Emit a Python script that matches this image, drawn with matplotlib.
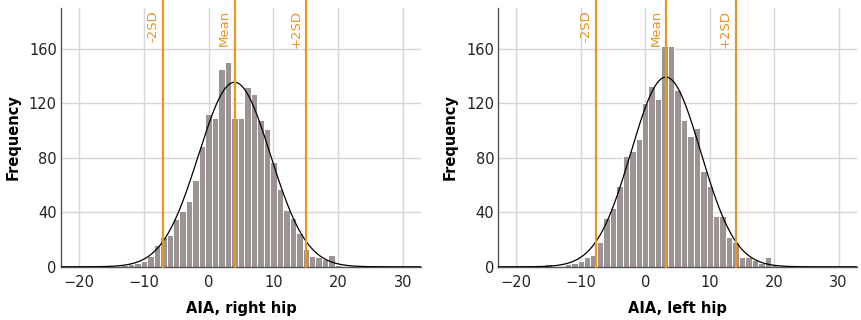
import numpy as np
import matplotlib
matplotlib.use("Agg")
import matplotlib.pyplot as plt
import matplotlib.transforms as mtransforms

# ---- data ----
bin_centers_right_hip = list(range(-18, 28))
counts_right_hip = [1, 0, 0, 0, 0, 1, 2, 3, 4, 8, 16, 22, 23, 35, 41, 48, 64, 89,
                    112, 109, 145, 150, 109, 109, 132, 127, 108, 101, 77, 57, 42, 36,
                    25, 13, 8, 7, 6, 9, 1, 0, 0, 0, 0, 0, 0, 1]

bin_centers_left_hip = list(range(-15, 25))
counts_left_hip = [2, 0, 0, 2, 3, 4, 7, 9, 18, 36, 43, 59, 81, 85, 94, 120, 133,
                   123, 162, 162, 130, 108, 96, 102, 70, 59, 37, 37, 22, 18, 7, 7,
                   5, 3, 7, 1, 0, 0, 0, 1]

mean_right_hip, sd_right_hip = 4.0, 5.55
mean_left_hip, sd_left_hip = 3.2, 5.4
n_subjects = 1885

xlabels = ["AIA, right hip", "AIA, left hip"]
ref_labels = ["-2SD", "Mean", "+2SD"]
xticks = [-20, -10, 0, 10, 20, 30]
yticks = [0, 40, 80, 120, 160]

BAR = "#9c9393"
ORANGE = "#e8952a"
GRID = "#d6d6d6"

fig = plt.figure(figsize=(8.61, 3.2), dpi=100)
ax_l = fig.add_axes([61 / 861, 1 - 266.8 / 320, 360 / 861, (266.8 - 8) / 320])
ax_r = fig.add_axes([498.3 / 861, 1 - 266.8 / 320, 358.4 / 861, (266.8 - 8) / 320])

panels = [
    (ax_l, bin_centers_right_hip, counts_right_hip, mean_right_hip, sd_right_hip, xlabels[0]),
    (ax_r, bin_centers_left_hip, counts_left_hip, mean_left_hip, sd_left_hip, xlabels[1]),
]

for ax, centers, counts, mu, sd, xl in panels:
    ax.set_axisbelow(True)
    ax.grid(True, color=GRID, linewidth=1.0)
    ax.bar(centers, counts, width=1.0, color=BAR, edgecolor="white",
           linewidth=0.7, zorder=2)
    xs = np.linspace(-22.8, 32.8, 600)
    ys = n_subjects * 1.0 / (sd * np.sqrt(2 * np.pi)) * np.exp(-0.5 * ((xs - mu) / sd) ** 2)
    ax.plot(xs, ys, color="black", linewidth=0.9, zorder=4)
    for val, lab in zip([mu - 2 * sd, mu, mu + 2 * sd], ref_labels):
        ax.axvline(val, ymin=0, ymax=1.031, color=ORANGE, linewidth=1.6,
                   zorder=5, clip_on=False)
        trans = mtransforms.offset_copy(ax.transData, fig=fig, x=-2.5, y=0, units="points")
        ax.text(val, 188.5, lab, rotation=90, ha="right", va="top", color=ORANGE,
                fontsize=9.5, transform=trans, zorder=6)
    ax.set_xlim(-22.8, 32.8)
    ax.set_ylim(0, 190)
    ax.set_xticks(xticks)
    ax.set_yticks(yticks)
    ax.tick_params(axis="both", length=0, labelsize=10.5, colors="#222222")
    ax.tick_params(axis="x", pad=6)
    ax.tick_params(axis="y", pad=3)
    for s in ["top", "right"]:
        ax.spines[s].set_visible(False)
    for s in ["left", "bottom"]:
        ax.spines[s].set_color("#555555")
        ax.spines[s].set_linewidth(1.0)
    ax.set_xlabel(xl, fontsize=10.5, fontweight="bold", labelpad=8)
    ax.set_ylabel("Frequency", fontsize=10.5, fontweight="bold", labelpad=6)

fig.savefig("out.png", dpi=100)
